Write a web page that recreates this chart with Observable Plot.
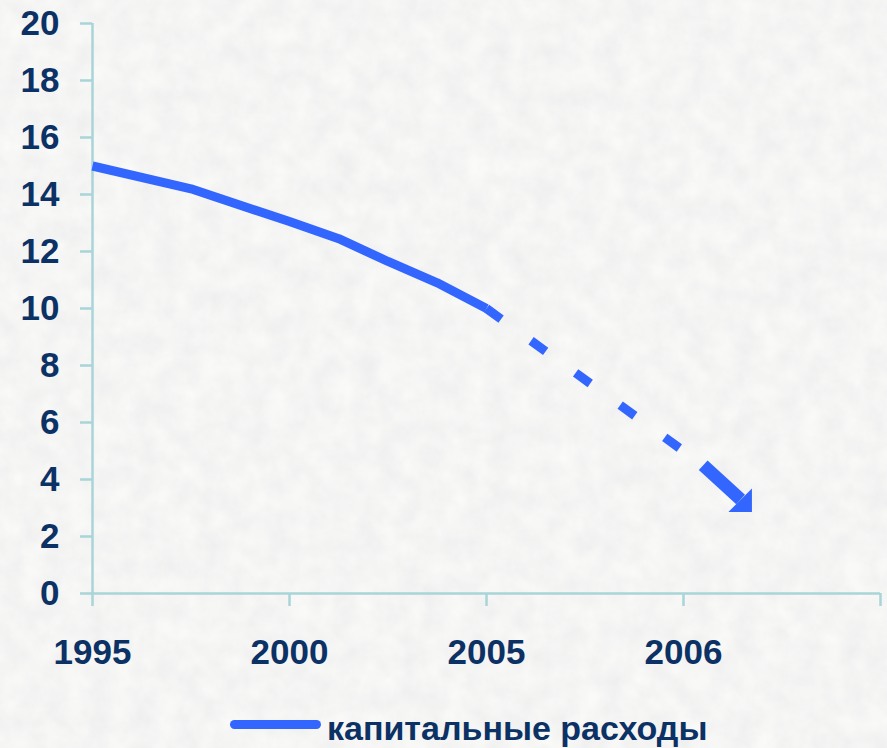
<!DOCTYPE html>
<html>
<head>
<meta charset="utf-8">
<script src="https://cdn.jsdelivr.net/npm/d3@7"></script>
<script src="https://cdn.jsdelivr.net/npm/@observablehq/plot@0.6"></script>
<style>
  html, body { margin: 0; padding: 0; background: #e8e8e6; }
  #wrap { position: relative; width: 887px; height: 748px; background: #e8e8e6; overflow: hidden; }
  #texture { position: absolute; left: 0; top: 0; }
  #chart { position: absolute; left: 0; top: 0; }
  #chart svg { display: block; background: transparent !important; }
  #chart svg text { font-family: "Liberation Sans", Arial, sans-serif; font-weight: bold; font-size: 35px; fill: #0b3165; }
  #legend { position: absolute; left: 0; top: 690px; width: 887px; height: 58px; }
  #legend .swatch { position: absolute; left: 230px; top: 30px; width: 91px; height: 9px; border-radius: 5px; background: #3366ff; }
  #legend .label { position: absolute; left: 327px; top: 21px; font-family: "Liberation Sans", Arial, sans-serif; font-weight: bold; font-size: 34px; line-height: 34px; color: #0b3165; white-space: nowrap; }
</style>
</head>
<body>
<div id="wrap">
  <svg id="texture" width="887" height="748">
    <filter id="grain" x="0" y="0" width="100%" height="100%">
      <feTurbulence type="fractalNoise" baseFrequency="0.045" numOctaves="4" seed="3"/>
      <feColorMatrix type="matrix" values="0.12 0 0 0 0.85  0.12 0 0 0 0.85  0.11 0 0 0 0.85  0 0 0 0 1"/>
    </filter>
    <rect width="887" height="748" filter="url(#grain)"/>
  </svg>
  <div id="chart"></div>
  <div id="legend"><div class="swatch"></div><div class="label"></div></div>
</div>
<script>
// Category labels on the x axis (slot 0..3; slot 4 is an empty end slot)
const years = ["1995", "2000", "2005", "2006"];
const yTicks = [0, 2, 4, 6, 8, 10, 12, 14, 16, 18, 20];
const seriesName = "капитальные расходы";

// Solid series: position in category slots and value
const actualPos = [0, 0.5, 1, 1.25, 1.5, 1.75, 2];
const actualVal = [15, 14.2, 13.05, 12.45, 11.65, 10.9, 10.0];

// Forecast (dashed) part
const forecastPos = [2, 3.1];
const forecastVal = [10, 4.5];

// Arrow shaft and head
const shaftPos = [3.1, 3.29];
const shaftVal = [4.5, 3.3];
const tipPos = [3.345];
const tipVal = [2.88];

const blue = "#3366ff";
const axisColor = "#a9d4d8";
const textColor = "#0b3165";

const actual = actualPos.map((x, i) => ({x, y: actualVal[i]}));
const forecast = forecastPos.map((x, i) => ({x, y: forecastVal[i]}));
const shaft = shaftPos.map((x, i) => ({x, y: shaftVal[i]}));
const tip = tipPos.map((x, i) => ({x, y: tipVal[i]}));

// right-angled arrowhead with its tip at the data point
const headSymbol = {
  draw(context, size) {
    const s = Math.sqrt(size);
    context.moveTo(0.5, 0.5);
    context.lineTo(-s, 0.5);
    context.lineTo(0.5, -s);
    context.closePath();
  }
};

const chart = Plot.plot({
  width: 887,
  height: 690,
  marginLeft: 92,
  marginRight: 7,
  marginTop: 23,
  marginBottom: 97,
  style: {background: "transparent", fontFamily: "Liberation Sans, Arial, sans-serif", fontSize: "35px", fontWeight: "bold", color: textColor},
  x: {domain: [0, 4], axis: null},
  y: {domain: [0, 20], axis: null},
  marks: [
    Plot.ruleX([0], {y1: 0, y2: 20, stroke: axisColor, strokeWidth: 2.5}),
    Plot.ruleY([0], {x1: 0, x2: 4, stroke: axisColor, strokeWidth: 2.5}),
    Plot.axisY({ticks: yTicks, tickSize: 12, tickPadding: 21, stroke: axisColor, strokeWidth: 2.5, fill: textColor, fontSize: 35, fontWeight: "bold", label: null}),
    Plot.axisX({ticks: [0, 1, 2, 3, 4], tickSize: 13, tickPadding: 33, tickFormat: i => years[i] ?? "", stroke: axisColor, strokeWidth: 2.5, fill: textColor, fontSize: 35, fontWeight: "bold", label: null}),
    Plot.line(actual, {x: "x", y: "y", stroke: blue, strokeWidth: 9, strokeLinecap: "butt", strokeLinejoin: "miter"}),
    Plot.line(forecast, {x: "x", y: "y", stroke: blue, strokeWidth: 9, strokeDasharray: "18,37", strokeLinecap: "butt"}),
    Plot.line(shaft, {x: "x", y: "y", stroke: blue, strokeWidth: 13, strokeLinecap: "butt"}),
    Plot.dot(tip, {x: "x", y: "y", symbol: headSymbol, r: 13, fill: blue, stroke: "none"})
  ]
});
document.getElementById("chart").appendChild(chart);
document.querySelector("#legend .label").textContent = seriesName;
</script>
</body>
</html>
